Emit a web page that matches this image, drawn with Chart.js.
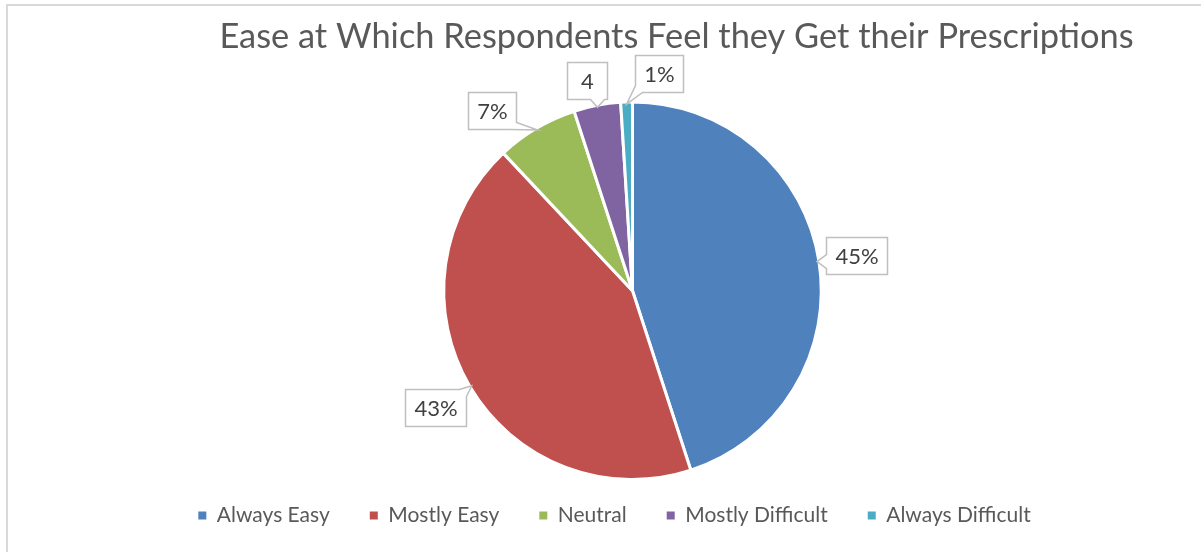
<!DOCTYPE html>
<html>
<head>
<meta charset="utf-8">
<script src="https://cdn.jsdelivr.net/npm/chart.js@4.4.0/dist/chart.umd.min.js"></script>
<style>
  html, body { margin: 0; padding: 0; background: #ffffff; }
  #wrap { position: relative; width: 1201px; height: 552px; overflow: hidden; }
  #frame { position: absolute; left: 6px; top: 4px; right: -10px; bottom: -10px;
           border-left: 2px solid #d9d9d9; border-top: 2px solid #d9d9d9; }
  #c { position: absolute; left: 0; top: 0; }
</style>
</head>
<body>
<div id="wrap">
  <div id="frame"></div>
  <canvas id="c" width="1201" height="552"></canvas>
</div>
<script>
// ---- data ----
const chartTitle = 'Ease at Which Respondents Feel they Get their Prescriptions';
const categories = ['Always Easy', 'Mostly Easy', 'Neutral', 'Mostly Difficult', 'Always Difficult'];
const shares = [45, 43, 7, 4, 1];
const dataLabels = ['45%', '43%', '7%', '4', '1%'];
const sliceColors = ['#4F81BD', '#C0504D', '#9BBB59', '#8064A2', '#4BACC6'];

Chart.defaults.font.family = 'Lato, "Open Sans", sans-serif';

function perimPoint(x0, y0, W, H, t) {
  const L = 2 * (W + H);
  t = ((t % L) + L) % L;
  if (t <= W) return [x0 + t, y0];
  if (t <= W + H) return [x0 + W, y0 + (t - W)];
  if (t <= 2 * W + H) return [x0 + W - (t - W - H), y0 + H];
  return [x0, y0 + H - (t - 2 * W - H)];
}
function closestT(x0, y0, W, H, px, py) {
  const qx = Math.min(Math.max(px, x0), x0 + W);
  const qy = Math.min(Math.max(py, y0), y0 + H);
  const d = [Math.abs(qy - y0), Math.abs(qx - (x0 + W)), Math.abs(qy - (y0 + H)), Math.abs(qx - x0)];
  const m = d.indexOf(Math.min(...d));
  if (m === 0) return qx - x0;
  if (m === 1) return W + (qy - y0);
  if (m === 2) return W + H + (x0 + W - qx);
  return 2 * W + H + (y0 + H - qy);
}

const calloutPlugin = {
  id: 'callouts',
  afterDatasetsDraw(chart, args, opts) {
    const ctx = chart.ctx;
    const meta = chart.getDatasetMeta(0);
    ctx.save();
    ctx.font = opts.fontSize + 'px ' + Chart.defaults.font.family;
    meta.data.forEach((arc, i) => {
      const p = arc.getProps(['x', 'y', 'startAngle', 'endAngle', 'outerRadius'], true);
      const mid = (p.startAngle + p.endAngle) / 2;
      const r = p.outerRadius - 2;
      const ax = p.x + Math.cos(mid) * r, ay = p.y + Math.sin(mid) * r;
      const off = opts.offsets[i];
      const text = dataLabels[i];
      const tw = ctx.measureText(text).width;
      const W = Math.round(Math.max(tw + 2 * opts.padX, opts.minWidth));
      const H = opts.height;
      const cx = ax + off[0], cy = ay + off[1];
      const x0 = Math.round(cx - W / 2) + 0.5, y0 = Math.round(cy - H / 2) + 0.5;
      const L = 2 * (W + H);
      const tc = closestT(x0, y0, W, H, ax, ay);
      const t1 = tc - opts.wedge / 2, t2 = tc + opts.wedge / 2, tEnd = t1 + L;
      const corners = [];
      for (let k = -1; k <= 2; k++) {
        [0, W, W + H, 2 * W + H].forEach(c => {
          const v = c + k * L;
          if (v > t2 && v < tEnd) corners.push(v);
        });
      }
      corners.sort((a, b) => a - b);
      ctx.beginPath();
      let pt = perimPoint(x0, y0, W, H, t2);
      ctx.moveTo(pt[0], pt[1]);
      corners.forEach(v => { const q = perimPoint(x0, y0, W, H, v); ctx.lineTo(q[0], q[1]); });
      pt = perimPoint(x0, y0, W, H, t1);
      ctx.lineTo(pt[0], pt[1]);
      ctx.lineTo(ax, ay);
      ctx.closePath();
      ctx.fillStyle = '#ffffff';
      ctx.fill();
      ctx.lineWidth = 1.5;
      ctx.strokeStyle = opts.borderColor;
      ctx.lineJoin = 'miter';
      ctx.stroke();
      ctx.fillStyle = opts.color;
      ctx.textAlign = 'center';
      ctx.textBaseline = 'middle';
      ctx.fillText(text, x0 + W / 2, y0 + H / 2 + 1);
    });
    ctx.restore();
  }
};

const shiftPlugin = {
  id: 'shiftBoxes',
  afterLayout(chart, args, opts) {
    const t = chart.titleBlock;
    if (t) { t.left += opts.titleDx; t.right += opts.titleDx; }
    const l = chart.legend;
    if (l) { l.left += opts.legendDx; l.right += opts.legendDx; l.top += opts.legendDy; l.bottom += opts.legendDy; }
  }
};

const defaultLabels = Chart.overrides.pie.plugins.legend.labels.generateLabels;

new Chart(document.getElementById('c'), {
  type: 'pie',
  data: {
    labels: categories,
    datasets: [{
      data: shares,
      backgroundColor: sliceColors,
      borderColor: '#ffffff',
      borderWidth: 3
    }]
  },
  options: {
    responsive: false,
    animation: false,
    layout: { padding: { left: 64, right: 0, top: 0, bottom: 0 } },
    plugins: {
      tooltip: { enabled: false },
      title: {
        display: true,
        text: chartTitle,
        color: '#595959',
        font: { size: 34.4, weight: 'normal', lineHeight: 1.2 },
        padding: { top: 16.5, bottom: 42.7 }
      },
      legend: {
        position: 'bottom',
        maxHeight: 74,
        labels: {
          color: '#595959',
          font: { size: 21 },
          boxWidth: 8,
          boxHeight: 8,
          padding: 40,
          generateLabels(chart) {
            return defaultLabels(chart).map(it => Object.assign(it, { lineWidth: 0, strokeStyle: 'rgba(0,0,0,0)' }));
          }
        }
      },
      callouts: {
        fontSize: 22,
        color: '#404040',
        borderColor: '#bfbfbf',
        padX: 9,
        minWidth: 40,
        height: 37,
        wedge: 14,
        offsets: [[40, -6], [-36, 22], [-45, -19], [-11, -27], [32, -31]]
      },
      shiftBoxes: { titleDx: 44, legendDx: -18, legendDy: -16 }
    }
  },
  plugins: [calloutPlugin, shiftPlugin]
});
</script>
</body>
</html>
